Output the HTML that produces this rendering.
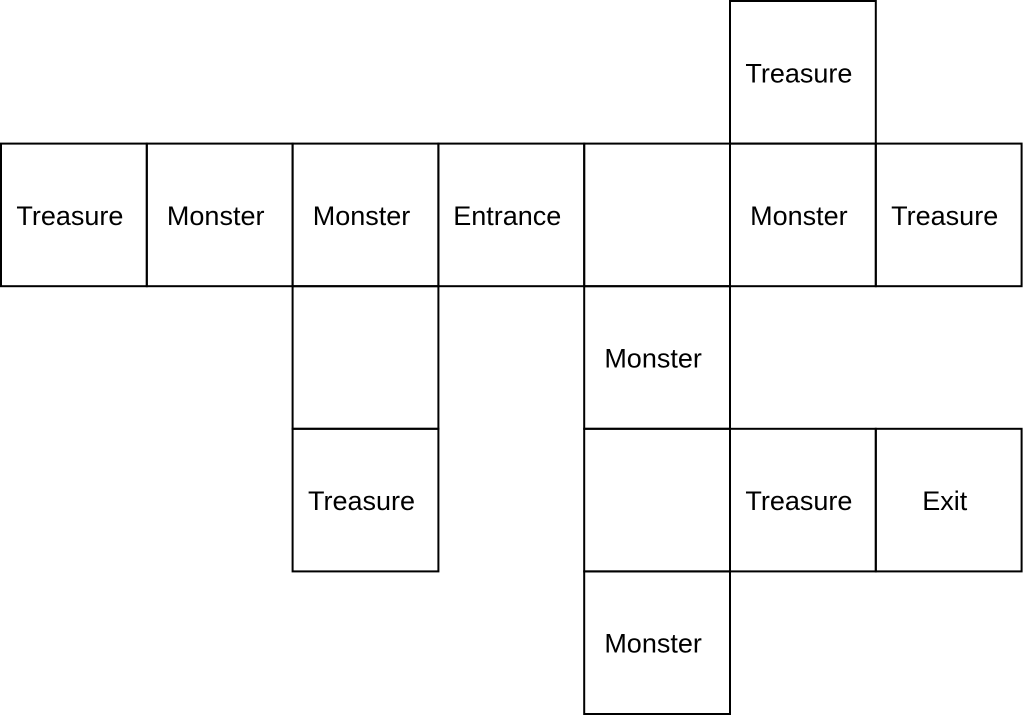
<!DOCTYPE html>
<html>
<head>
<meta charset="utf-8">
<style>
  html,body{margin:0;padding:0;background:#fff;}
  svg{display:block;}
  text{font-family:"Liberation Sans",Arial,sans-serif;font-size:27px;fill:#000;}
</style>
</head>
<body>
<svg id="map" width="1023" height="715" viewBox="0 0 1023 715" xmlns="http://www.w3.org/2000/svg"></svg>
<script>
const cellCols = [5, 0, 1, 2, 3, 4, 5, 6, 2, 4, 2, 4, 5, 6, 4];
const cellRows = [0, 1, 1, 1, 1, 1, 1, 1, 2, 2, 3, 3, 3, 3, 4];
const cellLabels = ["Treasure","Treasure","Monster","Monster","Entrance","","Monster","Treasure","","Monster","Treasure","","Treasure","Exit","Monster"];

const x0 = 1, y0 = 1, cw = 145.8, ch = 142.6;
const colX = c => x0 + c * cw;
const rowY = r => y0 + r * ch;
const svg = document.getElementById('map');
const NS = 'http://www.w3.org/2000/svg';
for (let i = 0; i < cellCols.length; i++) {
  const g = document.createElementNS(NS, 'g');
  const label = cellLabels[i] || 'empty';
  
  
  const r = document.createElementNS(NS, 'rect');
  r.setAttribute('x', colX(cellCols[i]));
  r.setAttribute('y', rowY(cellRows[i]));
  r.setAttribute('width', cw);
  r.setAttribute('height', ch);
  r.setAttribute('fill', 'none');
  r.setAttribute('stroke', '#000');
  r.setAttribute('stroke-width', '2');
  
  
  g.appendChild(r);
  if (cellLabels[i]) {
    const t = document.createElementNS(NS, 'text');
    t.setAttribute('x', colX(cellCols[i]) + cw / 2 - 4);
    t.setAttribute('y', rowY(cellRows[i]) + ch / 2 + 10);
    t.setAttribute('text-anchor', 'middle');
    
    
    t.textContent = cellLabels[i];
    g.appendChild(t);
  }
  svg.appendChild(g);
}
</script>
</body>
</html>
